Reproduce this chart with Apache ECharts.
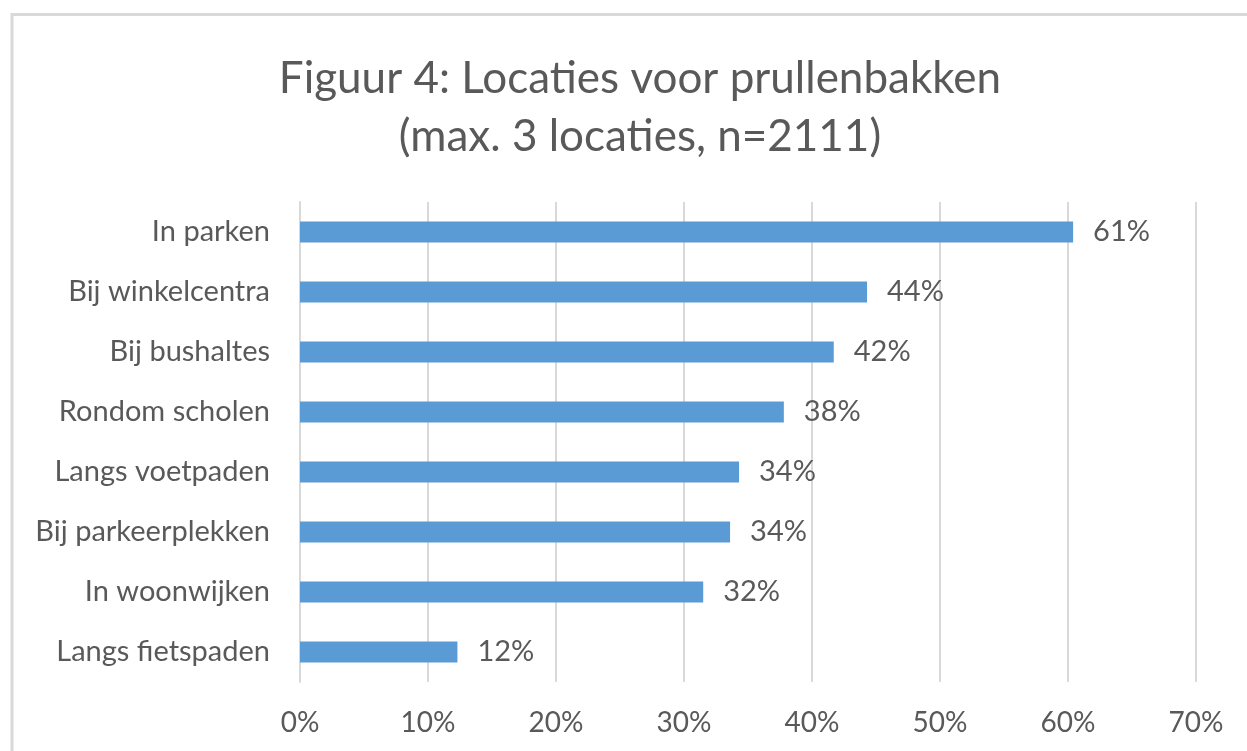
<!DOCTYPE html>
<html>
<head>
<meta charset="utf-8">
<script src="https://cdn.jsdelivr.net/npm/echarts@6/dist/echarts.min.js"></script>
<style>
html,body{margin:0;padding:0;background:#fff;}
#main{width:1247px;height:751px;}
</style>
</head>
<body>
<div id="main"></div>
<script>
var titleLines = ['Figuur 4: Locaties voor prullenbakken', '(max. 3 locaties, n=2111)'];
var categories = ['In parken', 'Bij winkelcentra', 'Bij bushaltes', 'Rondom scholen', 'Langs voetpaden', 'Bij parkeerplekken', 'In woonwijken', 'Langs fietspaden'];
var values = [60.4, 44.3, 41.7, 37.8, 34.3, 33.6, 31.5, 12.3];
var valueLabels = ['61%', '44%', '42%', '38%', '34%', '34%', '32%', '12%'];
var axisTicks = [0, 10, 20, 30, 40, 50, 60, 70];

var FONT = 'Lato, "Open Sans", sans-serif';
var chart = echarts.init(document.getElementById('main'));
chart.setOption({
  animation: false,
  backgroundColor: '#ffffff',
  title: {
    text: titleLines.join('\n'),
    left: 635,
    textAlign: 'center',
    top: 45,
    textStyle: { fontFamily: FONT, fontSize: 44, fontWeight: 'normal', color: '#595959', lineHeight: 58 }
  },
  graphic: [{
    type: 'polyline',
    shape: { points: [[12, 751], [12, 14.5], [1247, 14.5]] },
    style: { stroke: '#d9d9d9', lineWidth: 3, fill: null },
    silent: true
  }],
  grid: { left: 300, right: 51, top: 202, bottom: 69, containLabel: false },
  xAxis: {
    type: 'value',
    min: 0, max: 70, interval: 10,
    axisLine: { show: false },
    axisTick: { show: false },
    splitLine: { show: true, lineStyle: { color: '#d9d9d9', width: 2 } },
    axisLabel: {
      margin: 27,
      fontFamily: FONT, fontSize: 28, color: '#595959',
      formatter: function (v) { return v + '%'; }
    }
  },
  yAxis: {
    type: 'category',
    data: categories,
    inverse: true,
    axisLine: { show: true, lineStyle: { color: '#d9d9d9', width: 2 } },
    axisTick: { show: false },
    axisLabel: { margin: 30, fontFamily: FONT, fontSize: 29, color: '#595959' }
  },
  series: [{
    type: 'bar',
    data: values,
    barWidth: 21,
    itemStyle: { color: '#5b9bd5' },
    label: {
      show: true,
      position: 'right',
      distance: 20,
      fontFamily: FONT, fontSize: 29, color: '#595959',
      formatter: function (p) { return valueLabels[p.dataIndex]; }
    }
  }]
});
</script>
</body>
</html>
